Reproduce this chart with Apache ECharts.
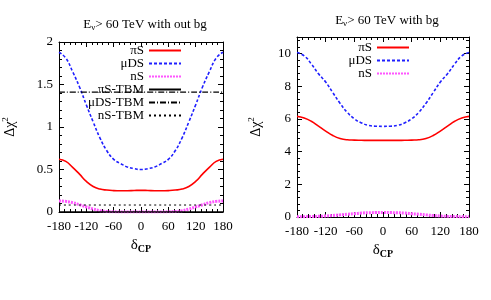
<!DOCTYPE html>
<html><head><meta charset="utf-8">
<script src="https://cdn.jsdelivr.net/npm/echarts@6/dist/echarts.min.js"></script>
<style>html,body{margin:0;padding:0;background:#fff}#c{width:491px;height:300px}</style>
</head><body><div id="c"></div>
<script>
const deltaCP = [-180,-165,-150,-135,-120,-105,-90,-75,-60,-45,-30,-15,0,15,30,45,60,75,90,105,120,135,150,165,180];
const xTicks = [-180,-120,-60,0,60,120,180];
// Left panel: E > 60 TeV without background
const piS_L  = [0.62,0.595,0.525,0.445,0.36,0.30,0.27,0.258,0.252,0.25,0.25,0.253,0.255,0.253,0.25,0.25,0.252,0.258,0.27,0.30,0.36,0.445,0.525,0.595,0.62];
const muDS_L = [1.88,1.81,1.65,1.47,1.26,1.06,0.87,0.72,0.62,0.57,0.53,0.51,0.50,0.51,0.53,0.57,0.62,0.72,0.87,1.06,1.26,1.47,1.65,1.81,1.88];
const nS_L   = [0.13,0.125,0.11,0.085,0.06,0.035,0.015,0.006,0.002,0,0,0,0,0,0,0,0.002,0.006,0.015,0.035,0.06,0.085,0.11,0.125,0.13];
const piS_TBM  = 0.0;
const muDS_TBM = 1.41;
const nS_TBM   = 0.082;
// Right panel: E > 60 TeV with background
const piS_R  = [6.15,6.05,5.85,5.55,5.25,4.98,4.80,4.72,4.70,4.69,4.68,4.68,4.68,4.68,4.68,4.69,4.70,4.72,4.80,4.98,5.25,5.55,5.85,6.05,6.15];
const muDS_R = [10.05,9.85,9.35,8.75,8.25,7.6,6.95,6.4,6.0,5.75,5.6,5.55,5.54,5.55,5.6,5.75,6.0,6.4,6.95,7.6,8.25,8.75,9.35,9.85,10.05];
const nS_R   = [0.02,0.02,0.03,0.04,0.06,0.09,0.13,0.17,0.2,0.24,0.26,0.27,0.28,0.27,0.26,0.24,0.2,0.17,0.13,0.09,0.06,0.04,0.03,0.02,0.02];

const F = 'Liberation Serif';
const pair = (arr) => deltaCP.map((d,i)=>[d,arr[i]]);
const flat = (v) => [[-180,v],[180,v]];

const chart = echarts.init(document.getElementById('c'));
const grids = [
  {left:58, right:268, top:42, bottom:88},
  {left:297, right:22, top:37, bottom:83}
];
const xAxes = [], yAxes = [];
const yCfg = [{min:0,max:2,interval:0.5},{min:0,max:11,interval:2}];
const subRich = {sub:{fontSize:10,fontWeight:'bold',fontFamily:F,verticalAlign:'bottom',padding:[8,0,0,0]}};
const tickC = {color:'#000',width:1};
for (let g=0; g<2; g++){
  xAxes.push({gridIndex:g,type:'value',min:-180,max:180,interval:60,position:'bottom',
    name:'δ{sub|CP}',nameLocation:'middle',nameGap:24,
    nameTextStyle:{fontFamily:F,fontSize:15,color:'#000',rich:subRich},
    axisLine:{onZero:false,lineStyle:{color:'#000',width:1}},
    axisTick:{inside:true,length:5,lineStyle:tickC},
    minorTick:{show:true,splitNumber:5,length:3,lineStyle:tickC},
    axisLabel:{fontFamily:F,fontSize:13,color:'#000',margin:8},
    splitLine:{show:false}});
  xAxes.push({gridIndex:g,type:'value',min:-180,max:180,interval:60,position:'top',
    axisLine:{onZero:false,lineStyle:{color:'#000',width:1}},
    axisTick:{inside:true,length:5,lineStyle:tickC},
    minorTick:{show:true,splitNumber:5,length:3,lineStyle:tickC},
    axisLabel:{show:false},splitLine:{show:false}});
  yAxes.push(Object.assign({gridIndex:g,type:'value',position:'left',
    name:'Δχ{sup|2}',nameLocation:'middle',nameRotate:90,nameGap: g===0?40:32,
    nameTextStyle:{fontFamily:F,fontSize:14,color:'#000',rich:{sup:{fontSize:9,fontFamily:F,padding:[0,0,9,0]}}},
    axisLine:{show:true,onZero:false,lineStyle:{color:'#000',width:1}},
    axisTick:{show:true,inside:true,length:5,lineStyle:tickC},
    minorTick:{show:true,splitNumber:5,length:3,lineStyle:tickC},
    axisLabel:{fontFamily:F,fontSize:13,color:'#000',margin:6,showMaxLabel:g===0},
    splitLine:{show:false}}, yCfg[g]));
  yAxes.push(Object.assign({gridIndex:g,type:'value',position:'right',
    axisLine:{show:true,onZero:false,lineStyle:{color:'#000',width:1}},
    axisTick:{show:true,inside:true,length:5,lineStyle:tickC},
    minorTick:{show:true,splitNumber:5,length:3,lineStyle:tickC},
    axisLabel:{show:false},splitLine:{show:false}}, yCfg[g]));
}
const line = (name, data, g, color, width, type, z) => ({
  name, type:'line', data, xAxisIndex:g*2, yAxisIndex:g*2, smooth:true, symbol:'none',
  lineStyle:{color, width, type}, itemStyle:{color}, z:z||2, animation:false
});
const series = [
  line('πS', pair(piS_L), 0, '#ff0000', 1.6, 'solid'),
  line('μDS', pair(muDS_L), 0, '#1f1fff', 1.6, [3,2]),
  line('nS', pair(nS_L), 0, '#ff55ff', 3, [2,1]),
  line('πS-TBM', flat(piS_TBM), 0, '#000', 1.6, 'solid'),
  line('μDS-TBM', flat(muDS_TBM), 0, '#000', 1.2, [6,2,1,2]),
  line('nS-TBM', flat(nS_TBM), 0, '#000', 1, [2,3]),
  line('πS ', pair(piS_R), 1, '#ff0000', 1.6, 'solid'),
  line('μDS ', pair(muDS_R), 1, '#1f1fff', 1.6, [3,2]),
  line('nS ', pair(nS_R), 1, '#ff55ff', 3, [2,1])
];
const legendBase = {orient:'vertical',align:'right',itemWidth:32,itemHeight:8,itemGap:0,
  itemStyle:{opacity:0},
  textStyle:{fontFamily:F,fontSize:13,color:'#000',lineHeight:13},
  selectedMode:false,backgroundColor:'transparent'};
chart.setOption({
  animation:false,
  title:[
    {text:'E{sub|ν}> 60 TeV with out bg',left:140,top:12,textAlign:'center',
     textStyle:{fontFamily:F,fontSize:13,fontWeight:'normal',color:'#000',rich:{sub:{fontSize:9,fontFamily:F,padding:[6,0,0,0]}}}},
    {text:'E{sub|ν}> 60 TeV with bg',left:382,top:8,textAlign:'center',
     textStyle:{fontFamily:F,fontSize:13,fontWeight:'normal',color:'#000',rich:{sub:{fontSize:9,fontFamily:F,padding:[6,0,0,0]}}}}
  ],
  grid:grids,
  xAxis:xAxes, yAxis:yAxes,
  legend:[
    Object.assign({},legendBase,{data:['πS','μDS','nS','πS-TBM','μDS-TBM','nS-TBM'],right:309,top:44,padding:0}),
    Object.assign({},legendBase,{data:['πS ','μDS ','nS '],right:81,top:41,padding:0,
      formatter:(n)=>n.trim()})
  ],
  series
});
</script></body></html>
